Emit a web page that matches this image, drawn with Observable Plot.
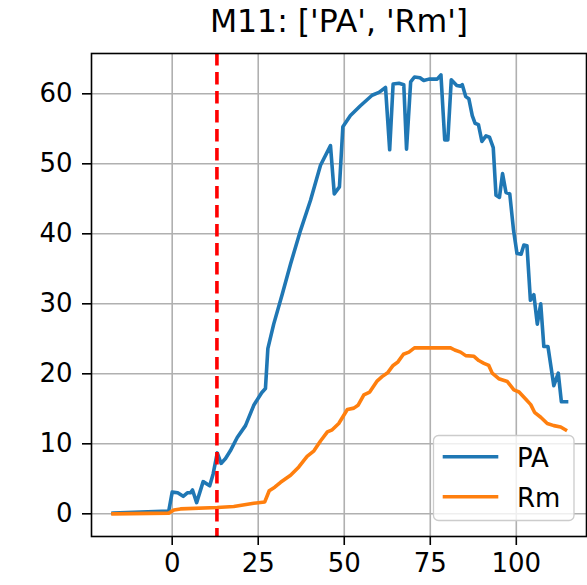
<!DOCTYPE html>
<html><head><meta charset="utf-8">
<script src="https://cdn.jsdelivr.net/npm/d3@7"></script>
<script src="https://cdn.jsdelivr.net/npm/@observablehq/plot@0.6"></script>
<style>body{margin:0;background:#fff;} svg{display:block;}</style>
</head><body><div id="chart"></div>
<script>
const titleText = "M11: ['PA', 'Rm']";
const seriesNames = ["PA", "Rm"];
const seriesColors = ["#1f77b4", "#ff7f0e"];
const xTicks = [0, 25, 50, 75, 100];
const yTicks = [0, 10, 20, 30, 40, 50, 60];
const eventX = [13];

const paPoints = [
  [-17.2,0.1],[-1,0.4],[0,3.1],[1.6,3.0],[3.2,2.5],[4.4,3.0],[5.3,3.0],[5.9,3.4],[7.1,1.6],
  [9.0,4.6],[10.9,4.0],[11.9,5.7],[13.1,8.7],[14.2,7.2],[15.5,7.9],[16.9,9.0],[18.9,10.9],
  [21.3,12.6],[23.7,15.5],[26.0,17.3],[27.1,17.9],[27.8,23.6],[29.5,27.1],[32.0,31.4],
  [34.4,35.7],[37.3,40.5],[40.2,44.8],[43.1,49.8],[46.0,52.6],[47.1,45.7],[48.6,46.7],
  [49.6,55.3],[51.8,56.9],[54.7,58.3],[58.1,59.8],[60.1,60.2],[62.0,60.9],[63.2,52.0],
  [64.2,61.4],[65.9,61.5],[67.3,61.3],[68.1,52.1],[69.3,61.7],[70.4,62.4],[72.0,62.3],
  [73.1,61.9],[74.6,62.1],[77.0,62.1],[78.1,62.7],[79.2,53.4],[80.1,53.4],[81.1,62.0],
  [82.7,61.2],[83.8,61.1],[84.3,61.3],[85.3,59.6],[86.2,59.3],[87.2,56.9],[88.0,55.8],
  [89.0,55.6],[90.0,53.2],[91.2,54.0],[92.2,53.8],[93.3,52.3],[94.1,45.5],[95.1,45.2],
  [96.0,48.6],[97.0,45.9],[98.1,45.7],[99.2,40.5],[100.2,37.2],[101.4,37.1],[102.2,38.4],
  [103.1,38.3],[104.1,30.5],[105.1,31.3],[106.1,27.1],[107.1,30.0],[108.0,23.9],[109.2,23.9],
  [110.9,18.3],[112.2,20.1],[113.1,16.0],[114.6,16.0]
];

const rmPoints = [
  [-17.2,0.0],[-1,0.1],[0.5,0.55],[2.4,0.7],[13.1,0.9],[17.9,1.05],[23.7,1.5],[26.9,1.7],
  [28.2,3.3],[29.8,3.8],[31.5,4.5],[34.4,5.5],[36.8,6.7],[39.2,8.2],[41.2,9.0],[43.1,10.4],
  [45.1,11.7],[46.5,12.0],[48.4,12.9],[50.9,14.9],[52.8,15.1],[54.0,15.5],[55.7,17.0],
  [57.4,17.4],[59.6,19.0],[61.0,19.6],[62.7,20.2],[64.2,21.2],[65.6,21.7],[67.2,22.8],
  [68.8,23.1],[70.4,23.7],[80.9,23.7],[82.1,23.4],[83.8,23.1],[85.3,22.6],[87.7,22.5],
  [89.1,21.9],[90.6,21.5],[92.0,21.2],[93.0,20.1],[94.9,19.3],[97.4,18.9],[99.3,17.7],
  [100.8,17.4],[102.7,16.4],[104.2,15.6],[105.3,14.5],[107.1,13.8],[109.0,12.9],
  [110.9,12.6],[112.9,12.4],[114.3,12.0]
];

const rows = [
  ...paPoints.map(([x, y]) => ({series: "PA", x, y})),
  ...rmPoints.map(([x, y]) => ({series: "Rm", x, y}))
];

const FONT = "DejaVu Sans";
const TICK_FS = 26;
const plot = Plot.plot({
  width: 587, height: 585,
  marginLeft: 91, marginRight: 1, marginTop: 53, marginBottom: 49,
  style: {fontFamily: FONT, fontSize: TICK_FS + "px", color: "black", background: "white"},
  x: {domain: [-23.45, 120.4]},
  y: {domain: [-3.24, 65.76]},
  color: {domain: seriesNames, range: seriesColors},
  marks: [
    Plot.gridX(xTicks, {stroke: "#b0b0b0", strokeOpacity: 1, strokeWidth: 1.6}),
    Plot.gridY(yTicks, {stroke: "#b0b0b0", strokeOpacity: 1, strokeWidth: 1.6}),
    Plot.line(rows, {x: "x", y: "y", z: "series", stroke: "series", strokeWidth: 3.6, strokeLinejoin: "round", strokeLinecap: "square"}),
    Plot.ruleX(eventX, {stroke: "red", strokeWidth: 3.6, strokeDasharray: "12.5,6.5"}),
    Plot.frame({stroke: "black", strokeWidth: 1.6}),
    Plot.axisX(xTicks, {tickSize: 9, tickPadding: 8, fontSize: TICK_FS, strokeWidth: 1.6, label: null}),
    Plot.axisY(yTicks, {tickSize: 9, tickPadding: 10, fontSize: TICK_FS, strokeWidth: 1.6, label: null}),
    Plot.text([titleText], {frameAnchor: "top", lineAnchor: "bottom", dy: -22, fontSize: 31.5})
  ]
});

const svg = d3.select(plot);
const lg = svg.append("g").attr("font-family", FONT).attr("text-anchor", "start");
lg.append("rect").attr("x", 433.5).attr("y", 435.5).attr("width", 140.5).attr("height", 85)
  .attr("rx", 5).attr("fill", "white").attr("fill-opacity", 0.8)
  .attr("stroke", "#cccccc").attr("stroke-width", 1.3);
seriesNames.forEach((s, i) => {
  const cy = 456.7 + i * 40;
  lg.append("line").attr("x1", 442.7).attr("x2", 498.3).attr("y1", cy).attr("y2", cy)
    .attr("stroke", seriesColors[i]).attr("stroke-width", 3.6);
  lg.append("text").attr("x", 517).attr("y", cy).attr("dy", "0.38em")
    .attr("font-size", TICK_FS).attr("fill", "black").attr("text-anchor", "start").text(s);
});

document.getElementById("chart").appendChild(plot);
</script>
</body></html>
